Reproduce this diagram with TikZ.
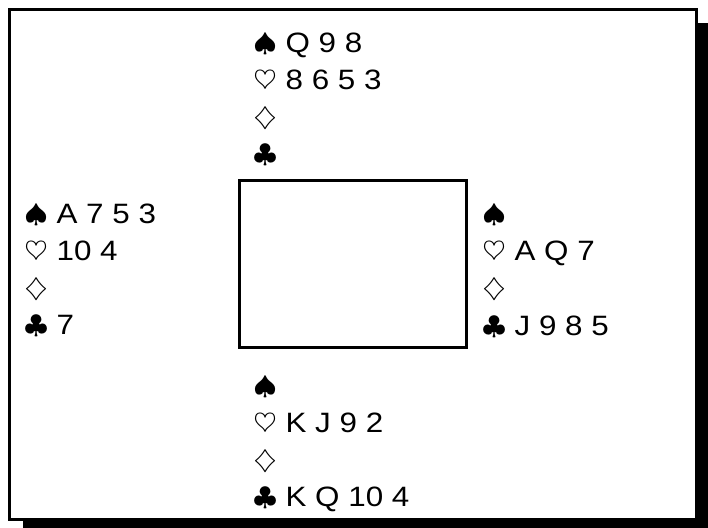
\documentclass[tikz,border=0pt]{standalone}
\usepackage{fontspec}
\usepackage{graphicx}
\setmainfont{Liberation Sans}[FakeStretch=1.12]
\newcommand{\cardfont}{\fontsize{14}{16}\selectfont}
\newcommand{\suit}[1]{\raisebox{0.8pt}{\scalebox{1.05}[0.9]{$#1$}}}
\newcommand{\suitS}{\suit{\spadesuit}}
\newcommand{\suitH}{\suit{\heartsuit}}
\newcommand{\suitD}{\suit{\diamondsuit}}
\newcommand{\suitC}{\suit{\clubsuit}}

\begin{document}
\begin{tikzpicture}[x=0.5pt,y=-0.5pt,
  card/.style={anchor=base west,inner sep=0pt,font=\cardfont}]
\useasboundingbox (0,0) rectangle (708,528);
\clip (0,0) rectangle (708,528);

% frame with shadow
\fill[black] (23,23) rectangle (712,534);
\draw[line width=1.5pt,fill=white] (9.5,9.5) rectangle (696.5,519.5);

% table
\node (table) [draw,line width=1.3pt,inner sep=0pt,
  minimum width=113.7pt,minimum height=83.7pt] at (353,264) {};

% north
\node (ns) [card] at (253,53) {\suitS{} Q 9 8};
\node (nh) [card] at (253,90) {\suitH{} 8 6 5 3};
\node (nd) [card] at (253,127) {\suitD};
\node (nc) [card] at (253,164) {\suitC};

% west
\node (ws) [card] at (24,224) {\suitS{} A 7 5 3};
\node (wh) [card] at (24,261) {\suitH{} 10 4};
\node (wd) [card] at (24,298) {\suitD};
\node (wc) [card] at (24,335) {\suitC{} 7};

% east
\node (es) [card] at (482,224) {\suitS};
\node (eh) [card] at (482,261) {\suitH{} A Q 7};
\node (ed) [card] at (482,298) {\suitD};
\node (ec) [card] at (482,336) {\suitC{} J 9 8 5};

% south
\node (ss) [card] at (253,396) {\suitS};
\node (sh) [card] at (253,433) {\suitH{} K J 9 2};
\node (sd) [card] at (253,470) {\suitD};
\node (sc) [card] at (253,507) {\suitC{} K Q 10 4};
\end{tikzpicture}
\end{document}
